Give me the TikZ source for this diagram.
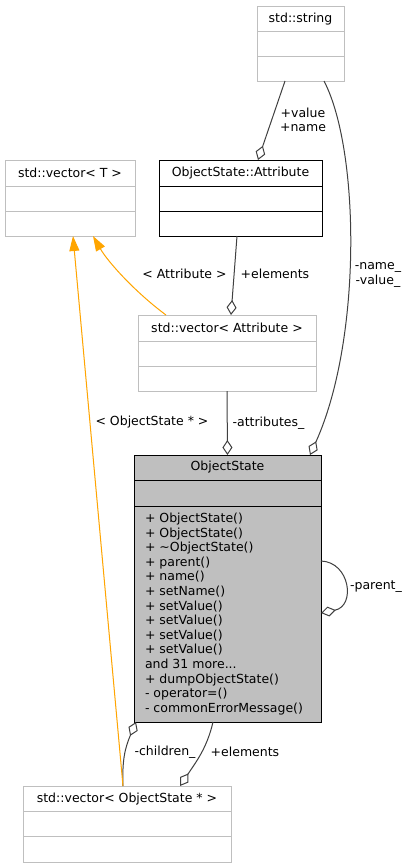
\documentclass[tikz,border=0pt]{standalone}
\usepackage{fontspec}
\setmainfont{DejaVu Sans}
\usetikzlibrary{positioning, calc, arrows.meta}
\definecolor{boxgray}{HTML}{BFBFBF}
\definecolor{edgegray}{HTML}{404040}
\definecolor{tmplorange}{HTML}{FFA500}

\begin{document}
\begin{tikzpicture}[x=1pt, y=-1pt,
	every node/.style={font=\fontsize{12.5}{14.6}\selectfont, inner sep=0pt, outer sep=0pt},
	classbox/.style={draw=boxgray, line width=1pt, fill=white, rectangle},
	usage/.style={draw=edgegray, line width=1pt, -{Diamond[open, length=15pt, width=10pt]}},
	tmpl/.style={draw=tmplorange, line width=1pt, -{Triangle[length=15pt, width=10pt, fill=tmplorange]}},
	lbl/.style={align=center}]
	\fill[white] (0,0) rectangle (410,868);
	\useasboundingbox (0,0) rectangle (410,868);
	
	% classes
	\node[classbox, minimum width=87pt, minimum height=75pt] (str) at (300.5,43.5) {};
	\node[classbox, minimum width=130pt, minimum height=76pt] (vect) at (70,198) {};
	\node[classbox, draw=black, minimum width=163pt, minimum height=76pt] (attr) at (240.5,198) {};
	\node[classbox, minimum width=178pt, minimum height=76pt] (veca) at (227,353) {};
	\node[classbox, draw=black, fill=boxgray, minimum width=187pt, minimum height=267pt] (os) at (227.5,588.5) {};
	\node[classbox, minimum width=208pt, minimum height=76pt] (veco) at (127,824) {};
	
	\draw[boxgray, line width=1pt] ($(str.north west)+(0,25)$) -- ($(str.north east)+(0,25)$);
	\draw[boxgray, line width=1pt] ($(str.north west)+(0,50)$) -- ($(str.north east)+(0,50)$);
	\draw[boxgray, line width=1pt] ($(vect.north west)+(0,26)$) -- ($(vect.north east)+(0,26)$);
	\draw[boxgray, line width=1pt] ($(vect.north west)+(0,51)$) -- ($(vect.north east)+(0,51)$);
	\draw[black, line width=1pt] ($(attr.north west)+(0,26)$) -- ($(attr.north east)+(0,26)$);
	\draw[black, line width=1pt] ($(attr.north west)+(0,51)$) -- ($(attr.north east)+(0,51)$);
	\draw[boxgray, line width=1pt] ($(veca.north west)+(0,26)$) -- ($(veca.north east)+(0,26)$);
	\draw[boxgray, line width=1pt] ($(veca.north west)+(0,51)$) -- ($(veca.north east)+(0,51)$);
	\draw[black, line width=1pt] ($(os.north west)+(0,25)$) -- ($(os.north east)+(0,25)$);
	\draw[black, line width=1pt] ($(os.north west)+(0,51)$) -- ($(os.north east)+(0,51)$);
	\draw[boxgray, line width=1pt] ($(veco.north west)+(0,25)$) -- ($(veco.north east)+(0,25)$);
	\draw[boxgray, line width=1pt] ($(veco.north west)+(0,50)$) -- ($(veco.north east)+(0,50)$);
	
	\node (strname) at ($(str.north)+(0,13)$) {std::string};
	\node (vectname) at ($(vect.north)+(0,13)$) {std::vector< T >};
	\node (attrname) at ($(attr.north)+(0,13)$) {ObjectState::Attribute};
	\node (vecaname) at ($(veca.north)+(0,13)$) {std::vector< Attribute >};
	\node (osname) at ($(os.north)+(0,12.5)$) {ObjectState};
	\node (veconame) at ($(veco.north)+(0,13)$) {std::vector< ObjectState * >};
	\node[anchor=north west, align=left] (osops) at ($(os.north west)+(11,58)$) {%
		+ ObjectState()\\
		+ ObjectState()\\
		+ \textasciitilde ObjectState()\\
		+ parent()\\
		+ name()\\
		+ setName()\\
		+ setValue()\\
		+ setValue()\\
		+ setValue()\\
		+ setValue()\\
		and 31 more...\\
		+ dumpObjectState()\\
		- operator=()\\
		- commonErrorMessage()};
	
	% relations
	\draw[usage] ($(str.south west)+(28,0)$) -- ($(attr.north west)+(99,0)$);
	\draw[usage] ($(str.south west)+(67,0)$) .. controls (360,150) and (362,340) .. ($(os.north west)+(176,0)$);
	\draw[usage] ($(attr.south west)+(78,0)$) -- ($(veca.north west)+(93,0)$);
	\draw[usage] (veca.south) -- (os.north);
	\draw[usage] ($(os.north east)+(0,106)$) .. controls (350,562) and (356,606) .. ($(os.north east)+(0,158)$);
	\draw[usage] ($(veco.north west)+(100,0)$) .. controls (122,760) and (125,748) .. ($(os.south west)+(2,0)$);
	\draw[usage] ($(os.south west)+(79,0)$) .. controls (207,748) and (196,762) .. ($(veco.north west)+(157,0)$);
	\draw[tmpl] ($(veca.north west)+(28,0)$) .. controls (135,292) and (108,262) .. ($(vect.south west)+(88,0)$);
	\draw[tmpl] ($(veco.north west)+(100,0)$) -- ($(vect.south west)+(68,0)$);
	
	\node[lbl] (lvalname) at (303,120) {+value\\+name};
	\node[lbl] (lnameval) at (378,275) {-name\_\\-value\_};
	\node[lbl] (lattrtmpl) at (184.5,274) {< Attribute >};
	\node[lbl] (lattrelem) at (275,274) {+elements};
	\node[lbl] (lostmpl) at (152,422) {< ObjectState * >};
	\node[lbl] (lattrs) at (268.5,423) {-attributes\_};
	\node[lbl] (lparent) at (376,587) {-parent\_};
	\node[lbl] (lchildren) at (165,752) {-children\_};
	\node[lbl] (loselem) at (245,752) {+elements};
\end{tikzpicture}
\end{document}
